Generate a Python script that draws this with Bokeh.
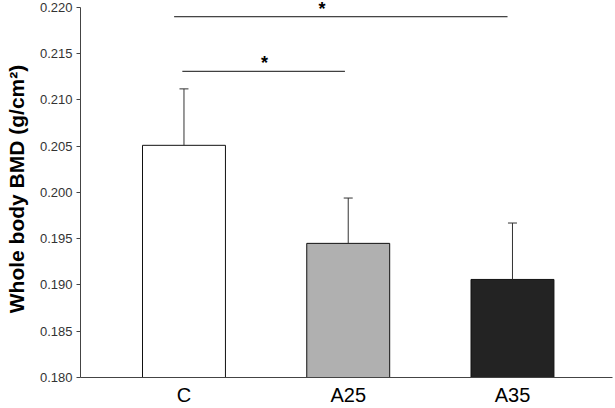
from bokeh.plotting import figure
from bokeh.models import (ColumnDataSource, FixedTicker, PrintfTickFormatter,
                          Whisker, TeeHead, Range1d, Label)
from bokeh.embed import file_html
from bokeh.resources import INLINE

# ---- data ----
categories = ["C", "A25", "A35"]
means = [0.2051, 0.1945, 0.1906]
errors = [0.0061, 0.0049, 0.0061]
colors = ["#ffffff", "#b0b0b0", "#232323"]
y_ticks = [0.180, 0.185, 0.190, 0.195, 0.200, 0.205, 0.210, 0.215, 0.220]
y_min, y_max = 0.180, 0.220

# significance brackets (C vs A35, C vs A25)
sig_start = [0.94, 0.99]
sig_end = [2.97, 1.98]
sig_level = [0.2190, 0.2131]
sig_star_x = [1.84, 1.49]
sig_text = ["*", "*"]

FONT = "Liberation Sans"
xs = [i + 1 for i in range(len(categories))]
uppers = [m + e for m, e in zip(means, errors)]

src = ColumnDataSource(dict(x=xs, top=means, upper=uppers, color=colors))

# a little headroom above the top tick so the upper asterisk is not clipped
headroom = 7 / 371 * (y_max - y_min)

p = figure(width=615, height=408,
           x_range=Range1d(0.370, 3.609),
           y_range=Range1d(y_min, y_max + headroom),
           min_border_left=80, min_border_right=3, min_border_top=0,
           min_border_bottom=30,
           output_backend="svg", toolbar_location=None)
p.outline_line_color = None
p.xgrid.visible = False
p.ygrid.visible = False
p.background_fill_color = "white"
p.border_fill_color = "white"

p.vbar(x="x", top="top", bottom=y_min, width=0.505, source=src,
       fill_color="color", line_color="#111111", line_width=1)

w = Whisker(base="x", lower="top", upper="upper", source=src,
            upper_head=TeeHead(size=9, line_color="#333333", line_width=1),
            lower_head=None, line_color="#333333", line_width=1,
            level="overlay")
p.add_layout(w)

p.segment(x0=sig_start, x1=sig_end, y0=sig_level, y1=sig_level,
          line_color="#111111", line_width=1)
for sx, sy, t in zip(sig_star_x, sig_level, sig_text):
    p.add_layout(Label(x=sx, y=sy, text=t, y_offset=8,
                       text_font=FONT, text_font_style="bold",
                       text_font_size="18px", text_align="center",
                       text_baseline="middle", text_color="#000000"))

# y axis
p.yaxis.ticker = FixedTicker(ticks=y_ticks)
p.yaxis.bounds = (y_min, y_max)
p.yaxis.formatter = PrintfTickFormatter(format="%.3f")
p.yaxis.major_tick_out = 4
p.yaxis.major_tick_in = 0
p.yaxis.minor_tick_line_color = None
p.yaxis.minor_tick_out = 0
p.yaxis.minor_tick_in = 0
p.yaxis.axis_line_color = "#444444"
p.yaxis.major_tick_line_color = "#444444"
p.yaxis.major_label_text_font = FONT
p.yaxis.major_label_text_font_size = "13px"
p.yaxis.major_label_text_color = "#333333"
p.yaxis.major_label_standoff = 4
p.yaxis.axis_label = "Whole body BMD (g/cm²)"
p.yaxis.axis_label_text_font = FONT
p.yaxis.axis_label_text_font_style = "bold"
p.yaxis.axis_label_text_font_size = "21px"
p.yaxis.axis_label_text_color = "#000000"
p.yaxis.axis_label_standoff = 9

# x axis
p.xaxis.ticker = FixedTicker(ticks=xs)
p.xaxis.major_label_overrides = {x: c for x, c in zip(xs, categories)}
p.xaxis.major_tick_line_color = None
p.xaxis.major_tick_out = 0
p.xaxis.major_tick_in = 0
p.xaxis.minor_tick_line_color = None
p.xaxis.minor_tick_out = 0
p.xaxis.minor_tick_in = 0
p.xaxis.axis_line_color = "#444444"
p.xaxis.major_label_text_font = FONT
p.xaxis.major_label_text_font_size = "20px"
p.xaxis.major_label_text_color = "#000000"
p.xaxis.major_label_standoff = 6

open("out.html", "w").write(file_html(p, INLINE))
